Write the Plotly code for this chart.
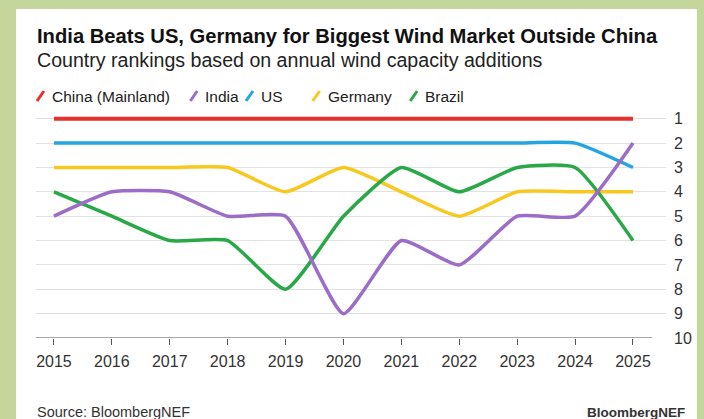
import plotly.graph_objects as go

# ---- data ----
years = [2015, 2016, 2017, 2018, 2019, 2020, 2021, 2022, 2023, 2024, 2025]
series_names = ["China (Mainland)", "India", "US", "Germany", "Brazil"]
china = [1, 1, 1, 1, 1, 1, 1, 1, 1, 1, 1]
india = [5, 4, 4, 5, 5, 9, 6, 7, 5, 5, 2]
us = [2, 2, 2, 2, 2, 2, 2, 2, 2, 2, 3]
germany = [3, 3, 3, 3, 4, 3, 4, 5, 4, 4, 4]
brazil = [4, 5, 6, 6, 8, 5, 3, 4, 3, 3, 6]
rank_ticks = [1, 2, 3, 4, 5, 6, 7, 8, 9, 10]

colors = {
    "China (Mainland)": "#e8312c",
    "India": "#9b6cc8",
    "US": "#22a5e0",
    "Germany": "#f7c81e",
    "Brazil": "#28a846",
}
values = {
    "China (Mainland)": china,
    "India": india,
    "US": us,
    "Germany": germany,
    "Brazil": brazil,
}

W, H = 704, 419
L, R, T, B = 36, 35, 109, 81
PW = W - L - R
PH = H - T - B
FONT = "Liberation Sans, Arial, sans-serif"


def px(x):
    return (x - L) / PW


def py(y):
    return (H - B - y) / PH


fig = go.Figure()
for name in ["China (Mainland)", "US", "Germany", "Brazil", "India"]:
    fig.add_trace(go.Scatter(
        x=years, y=values[name], mode="lines", name=name,
        line=dict(color=colors[name], width=4 if name.startswith("China") else 3.5,
                  shape="spline", smoothing=0.5),
        showlegend=False, hoverinfo="x+y+name",
    ))

shapes = [
    # white card on green background
    dict(type="rect", xref="paper", yref="paper", layer="below",
         x0=px(16), x1=px(700), y0=py(430), y1=py(9),
         fillcolor="white", line=dict(width=0)),
    # x-axis baseline
    dict(type="line", xref="paper", yref="y", x0=0, x1=px(655), y0=10, y1=10,
         line=dict(color="#555555", width=1.2)),
]
annotations = [
    dict(text="<b>India Beats US, Germany for Biggest Wind Market Outside China</b>",
         xref="paper", yref="paper", x=px(35), y=py(36), xanchor="left", yanchor="middle",
         showarrow=False, font=dict(family=FONT, size=20.2, color="#111111")),
    dict(text="Country rankings based on annual wind capacity additions",
         xref="paper", yref="paper", x=px(35), y=py(60), xanchor="left", yanchor="middle",
         showarrow=False, font=dict(family=FONT, size=19.6, color="#222222")),
    dict(text="Source: BloombergNEF",
         xref="paper", yref="paper", x=px(35), y=py(412), xanchor="left", yanchor="middle",
         showarrow=False, font=dict(family=FONT, size=14.5, color="#333333")),
    dict(text="<b>BloombergNEF</b>",
         xref="paper", yref="paper", x=px(690), y=py(412), xanchor="right", yanchor="middle",
         showarrow=False, font=dict(family=FONT, size=13.5, color="#333333")),
]

# custom legend with slanted strokes
legend_pos = [36, 190, 246, 313, 411]
for name, sx in zip(series_names, legend_pos):
    shapes.append(dict(type="line", xref="paper", yref="paper",
                       x0=px(sx + 1), y0=py(101), x1=px(sx + 8), y1=py(91),
                       line=dict(color=colors[name], width=3)))
    annotations.append(dict(text=name, xref="paper", yref="paper",
                            x=px(sx + 14), y=py(96), xanchor="left", yanchor="middle",
                            showarrow=False, font=dict(family=FONT, size=15.5, color="#222222")))

fig.update_layout(
    width=W, height=H,
    margin=dict(l=L, r=R, t=T, b=B, pad=0),
    paper_bgcolor="#c4d69c",
    plot_bgcolor="rgba(0,0,0,0)",
    font=dict(family=FONT, size=15, color="#333333"),
    shapes=shapes,
    annotations=annotations,
    showlegend=False,
)
fig.update_xaxes(
    range=[2014.69, 2025.57], tickvals=years, ticktext=[str(y) for y in years],
    showgrid=False, zeroline=False, showline=False,
    ticks="outside", ticklen=6, tickcolor="#555555", tickwidth=1.2,
    tickfont=dict(family=FONT, size=16, color="#333333"),
    ticklabelstandoff=3,
)
fig.update_yaxes(
    range=[10, 0.6], side="right", tickvals=rank_ticks,
    showgrid=True, gridcolor="#e2e2e2", gridwidth=1,
    zeroline=False, showline=False, ticks="",
    tickfont=dict(family=FONT, size=16, color="#333333"),
    ticklabelstandoff=7,
)

fig.write_html("out.html", config={"displayModeBar": False},
               post_script="document.body.style.margin='0px';document.body.style.overflow='hidden';")
